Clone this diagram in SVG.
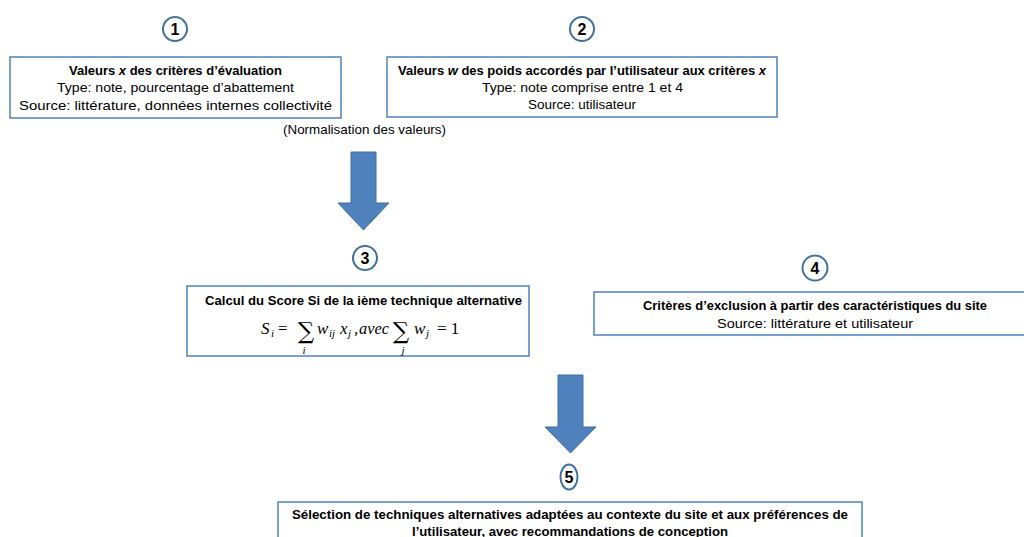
<svg xmlns="http://www.w3.org/2000/svg" width="1024" height="537" viewBox="0 0 1024 537">
<style>
.box{fill:#fff;stroke:#4F81BD;stroke-width:1.5}
.num{fill:#fff;stroke:#41719C;stroke-width:2}
.arrow{fill:#4F81BD;stroke:#41719C;stroke-width:1}
text{font-family:"Liberation Sans",Arial,sans-serif;font-size:13px;fill:#000;text-anchor:middle}
.b{font-weight:bold}
.n{font-weight:bold;font-size:16px}
.m{font-family:"Liberation Serif","Times New Roman",serif;font-style:italic;font-size:17px;text-anchor:start}
.r{font-family:"Liberation Serif","Times New Roman",serif;font-size:17px;text-anchor:start}
.mu{font-family:"DejaVu Serif",serif;font-size:23px;text-anchor:middle}
.s{font-family:"Liberation Serif","Times New Roman",serif;font-style:italic;font-size:11px;text-anchor:start}
.sc{font-family:"Liberation Serif","Times New Roman",serif;font-style:italic;font-size:11px;text-anchor:middle}
</style>
<rect width="1024" height="537" fill="#fff"/>
<g id="connectors">
<path class="arrow" d="M351,152 H376 V203 H389 L363.5,230 L338,203 H351 Z"/>
<path class="arrow" d="M558,375 H583 V427 H596 L570.5,453 L545,427 H558 Z"/>
</g>
<g id="node1">
<circle class="num" cx="175" cy="29" r="12"/>
<text class="n" x="175" y="35">1</text>
<rect class="box" x="10" y="57" width="331" height="61"/>
<text class="b" x="175.5" y="75" textLength="213" lengthAdjust="spacingAndGlyphs">Valeurs <tspan font-style="italic">x</tspan> des critères d’évaluation</text>
<text x="175.5" y="92" textLength="237" lengthAdjust="spacingAndGlyphs">Type: note, pourcentage d’abattement</text>
<text x="175.5" y="110" textLength="313" lengthAdjust="spacingAndGlyphs">Source: littérature, données internes collectivité</text>
</g>
<g id="node2">
<circle class="num" cx="582" cy="29" r="12"/>
<text class="n" x="582" y="35">2</text>
<rect class="box" x="387" y="57" width="390" height="60"/>
<text class="b" x="582" y="75" textLength="368" lengthAdjust="spacingAndGlyphs">Valeurs <tspan font-style="italic">w</tspan> des poids accordés par l’utilisateur aux critères <tspan font-style="italic">x</tspan></text>
<text x="582.5" y="92" textLength="201" lengthAdjust="spacingAndGlyphs">Type: note comprise entre 1 et 4</text>
<text x="582" y="109" textLength="108" lengthAdjust="spacingAndGlyphs">Source: utilisateur</text>
</g>
<g id="label-normalisation">
<text x="364.5" y="134" textLength="163" lengthAdjust="spacingAndGlyphs">(Normalisation des valeurs)</text>
</g>
<g id="node3">
<circle class="num" cx="365" cy="258" r="12"/>
<text class="n" x="365" y="264">3</text>
<rect class="box" x="187" y="286" width="342" height="70"/>
<text class="b" x="363.5" y="305" textLength="317" lengthAdjust="spacingAndGlyphs">Calcul du Score Si de la ième technique alternative</text>
<text class="m" x="261" y="334">S</text>
<text class="s" x="271" y="337">i</text>
<text class="r" x="278" y="334">=</text>
<text class="mu" x="306" y="339">∑</text>
<text class="sc" x="304" y="354">i</text>
<text class="m" x="317" y="334">w</text>
<text class="s" x="329" y="337">ij</text>
<text class="m" x="340" y="334">x</text>
<text class="s" x="348" y="337">j</text>
<text class="m" x="354" y="334">,</text>
<text class="m" x="359" y="334" textLength="30" lengthAdjust="spacingAndGlyphs">avec</text>
<text class="mu" x="401" y="339">∑</text>
<text class="sc" x="403" y="354">j</text>
<text class="m" x="414" y="334">w</text>
<text class="s" x="426" y="337">j</text>
<text class="r" x="437" y="334">= 1</text>
</g>
<g id="node4">
<circle class="num" cx="815" cy="268" r="12.5"/>
<text class="n" x="815" y="274">4</text>
<path class="box" d="M1026,292 H594 V335 H1026"/>
<text class="b" x="815" y="310" textLength="344" lengthAdjust="spacingAndGlyphs">Critères d’exclusion à partir des caractéristiques du site</text>
<text x="815" y="328" textLength="196" lengthAdjust="spacingAndGlyphs">Source:  littérature et utilisateur</text>
</g>
<g id="node5">
<ellipse class="num" cx="569" cy="477" rx="8.5" ry="12.5"/>
<text class="n" x="569" y="483">5</text>
<path class="box" d="M278,540 V502 H862 V540"/>
<text class="b" x="570" y="519" textLength="556" lengthAdjust="spacingAndGlyphs">Sélection de techniques alternatives adaptées au contexte du site  et aux préférences de</text>
<text class="b" x="570" y="536" textLength="316" lengthAdjust="spacingAndGlyphs">l’utilisateur, avec recommandations de conception</text>
</g>
</svg>
